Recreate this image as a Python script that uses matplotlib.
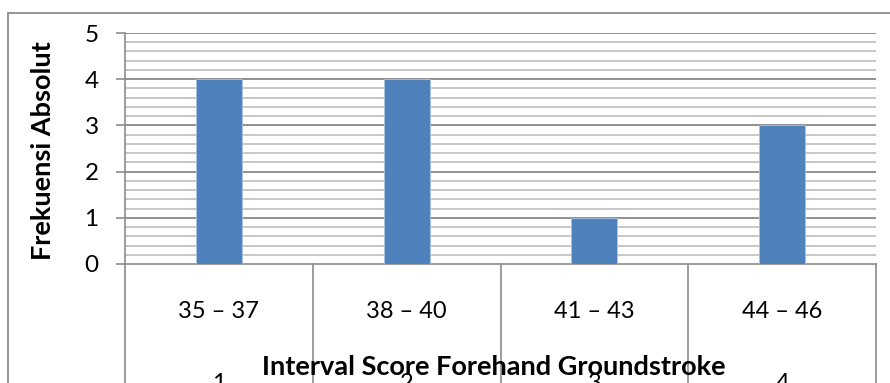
import matplotlib
matplotlib.use("Agg")
import matplotlib.pyplot as plt
from matplotlib.patches import Rectangle
from matplotlib.lines import Line2D
from matplotlib.transforms import blended_transform_factory
import numpy as np

intervals = ["35 \u2013 37", "38 \u2013 40", "41 \u2013 43", "44 \u2013 46"]
class_numbers = ["1", "2", "3", "4"]
frequencies = [4, 4, 1, 3]

plt.rcParams["font.family"] = ["Lato", "DejaVu Sans"]

W, H = 890, 383
fig = plt.figure(figsize=(W / 100, H / 100), dpi=100)
fig.patch.set_facecolor("white")

# chart frame
fig.add_artist(Rectangle((8 / W, -0.2), 1.0, 1.2 - 13 / H, transform=fig.transFigure,
                         fill=False, edgecolor="#8c8c8c", linewidth=1.3))

left, right, bottom, top = 125 / W, 876 / W, 1 - 264 / H, 1 - 33 / H
ax = fig.add_axes([left, bottom, right - left, top - bottom])

x = np.arange(len(intervals))
ax.bar(x, frequencies, width=0.245, color="#4F81BD", edgecolor="#a9c4e4",
       linewidth=0.6, zorder=3)

ax.set_xlim(-0.5, len(intervals) - 0.5)
ax.set_ylim(0, 5)

# gridlines
for v in np.arange(0.2, 5.0001, 0.2):
    major = abs(v - round(v)) < 1e-6
    ax.axhline(v, color="#888888" if major else "#b8b8b8",
               linewidth=1.3 if major else 1.1, zorder=1)

for s in ["top", "right"]:
    ax.spines[s].set_visible(False)
ax.spines["left"].set_color("#8c8c8c")
ax.spines["bottom"].set_color("#8c8c8c")
ax.spines["left"].set_linewidth(1.2)
ax.spines["bottom"].set_linewidth(1.2)

ax.set_yticks(range(0, 6))
ax.set_yticklabels([str(i) for i in range(0, 6)])
ax.tick_params(axis="y", length=6.5, width=1.2, color="#8c8c8c", labelsize=17.5,
               pad=12.5, direction="out")
ax.set_xticks([])

# multi-level category axis
trans = blended_transform_factory(ax.transData, fig.transFigure)
for b in np.arange(-0.5, len(intervals), 1.0):
    fig.add_artist(Line2D([b, b], [bottom, -0.05], transform=trans,
                          color="#8c8c8c", linewidth=1.2))
for i, lab in enumerate(intervals):
    ax.text(i, 1 - 312 / H, lab, transform=trans, ha="center", va="center",
            fontsize=17, color="black")
for i, lab in enumerate(class_numbers):
    ax.text(i, 1 - 373 / H, lab, transform=trans, ha="center", va="top",
            fontsize=17, color="black")

fig.text(494 / W, 1 - 375 / H, "Interval Score Forehand Groundstroke",
         ha="center", va="baseline", fontsize=19.5, fontweight="bold")
fig.text(43 / W, 1 - 151 / H, "Frekuensi Absolut", rotation=90,
         ha="center", va="center", fontsize=19.5, fontweight="bold")

fig.savefig("out.png", dpi=100)
